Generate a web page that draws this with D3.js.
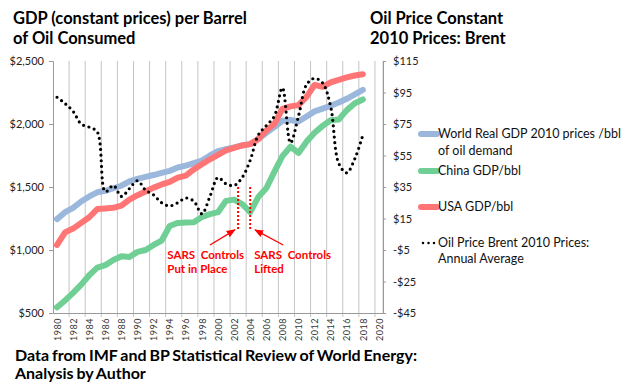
<!DOCTYPE html>
<html>
<head>
<meta charset="utf-8">
<script src="https://cdn.jsdelivr.net/npm/d3@7"></script>
<style>
  body { margin: 0; background: #fff; }
  svg text { font-family: Lato, "Open Sans", sans-serif; }
</style>
</head>
<body>
<div id="chart"></div>
<script>
const years = d3.range(1980, 2019);
const axisYears = d3.range(1980, 2021, 2);

const worldGdp = [1245, 1300, 1335, 1385, 1425, 1458, 1470, 1490, 1510, 1545,
  1565, 1580, 1595, 1612, 1628, 1655, 1670, 1690, 1710, 1750,
  1785, 1800, 1815, 1830, 1840, 1880, 1930, 1975, 2025, 2032,
  2020, 2060, 2100, 2122, 2145, 2170, 2200, 2235, 2270];
const chinaGdp = [545, 600, 660, 725, 800, 860, 880, 920, 950, 945,
  985, 1000, 1040, 1075, 1190, 1215, 1218, 1220, 1262, 1285,
  1300, 1390, 1400, 1365, 1300, 1420, 1490, 1620, 1745, 1820,
  1770, 1860, 1930, 1985, 2030, 2035, 2110, 2165, 2195];
const usaGdp = [1040, 1140, 1170, 1215, 1260, 1325, 1330, 1335, 1352, 1400,
  1435, 1465, 1495, 1520, 1540, 1575, 1590, 1640, 1680, 1720,
  1755, 1790, 1810, 1830, 1840, 1880, 1950, 2000, 2120, 2140,
  2150, 2215, 2310, 2295, 2330, 2350, 2370, 2385, 2395];
const oilPrice = [92, 88, 83, 75, 73, 70, 32, 36, 29, 34,
  39, 33, 30, 25, 23, 25, 28, 26, 18, 29,
  41, 37, 36, 41, 52, 68, 74, 80, 98, 63,
  80, 100, 104, 101, 86, 50, 44, 53, 68];

const leftTicks = [500, 1000, 1500, 2000, 2500];
const rightTicks = [-45, -25, -5, 15, 35, 55, 75, 95, 115];

const gdpSeries = [
  { name: "World Real GDP 2010 prices /bbl", name2: "of oil demand", values: worldGdp, color: "#9bb8dc" },
  { name: "China GDP/bbl", values: chinaGdp, color: "#6fcf94" },
  { name: "USA GDP/bbl", values: usaGdp, color: "#ff7575" }
];

// SARS annotation (year, left-axis value)
const sarsLines = [2002.5, 2004];
const sarsArrows = [
  { from: [1999.0, 1040], to: [2002.1, 1160] },
  { from: [2008.1, 1040], to: [2004.6, 1160] }
];
const sarsLabels = [
  { year: 1993.7, lines: ["SARS  Controls", "Put in Place"] },
  { year: 2004.5, lines: ["SARS  Controls", "Lifted"] }
];

const W = 640, H = 391;
const plot = { left: 53, right: 383, top: 61, bottom: 313 };

const svg = d3.select("#chart").append("svg")
  .attr("width", W).attr("height", H);

const x = d3.scaleLinear().domain([1979.5, 2020.5]).range([plot.left, plot.right]);
const yL = d3.scaleLinear().domain([500, 2500]).range([plot.bottom, plot.top]);
const yR = d3.scaleLinear().domain([-45, 115]).range([plot.bottom, plot.top]);

// vertical gridlines at category boundaries, every 2 years
const gridPos = d3.range(1981.5, 2021, 2);
svg.append("g").selectAll("line").data(gridPos).enter().append("line")
  .attr("x1", d => x(d)).attr("x2", d => x(d))
  .attr("y1", plot.top).attr("y2", plot.bottom + 4)
  .attr("stroke", "#c4c4c4").attr("stroke-width", 1);
svg.append("line")
  .attr("x1", x(2020.5)).attr("x2", x(2020.5))
  .attr("y1", plot.top).attr("y2", plot.bottom)
  .attr("stroke", "#c4c4c4");

// left axis
const gL = svg.append("g").attr("transform", `translate(${plot.left},0)`)
  .call(d3.axisLeft(yL).tickValues(leftTicks).tickSize(4).tickPadding(5)
    .tickFormat(d => "$" + d3.format(",")(d)));
gL.select(".domain").attr("stroke", "#9a9a9a");
gL.selectAll(".tick line").attr("stroke", "#9a9a9a");
gL.selectAll("text").attr("font-size", 11).attr("fill", "#222")
  .style("font-family", "Lato, sans-serif");

// right axis
const gR = svg.append("g").attr("transform", `translate(${plot.right},0)`)
  .call(d3.axisRight(yR).tickValues(rightTicks).tickSize(3).tickPadding(7)
    .tickFormat(d => (d < 0 ? "-$" + Math.abs(d) : "$" + d)));
gR.select(".domain").attr("stroke", "#9a9a9a");
gR.selectAll(".tick line").attr("stroke", "#9a9a9a");
gR.selectAll("text").attr("font-size", 11).attr("fill", "#222");

// bottom axis
const gB = svg.append("g").attr("transform", `translate(0,${plot.bottom})`)
  .call(d3.axisBottom(x).tickValues(axisYears).tickSize(0).tickFormat(d3.format("d")));
gB.select(".domain").attr("stroke", "#9a9a9a");
gB.selectAll("text")
  .attr("font-size", 9).attr("fill", "#333")
  .attr("transform", "rotate(-90)")
  .attr("text-anchor", "end")
  .attr("x", -5).attr("y", 0).attr("dy", "0.35em")
  .style("letter-spacing", "0.5px");

// GDP lines
const lineL = d3.line().x((d, i) => x(years[i])).y(d => yL(d));
gdpSeries.forEach(s => {
  svg.append("path")
    .attr("fill", "none")
    .attr("stroke", s.color)
    .attr("stroke-width", 6)
    .attr("stroke-linejoin", "round")
    .attr("stroke-linecap", "round")
    .attr("d", lineL(s.values));
});

// oil price (right axis), smoothed dotted line
const lineR = d3.line().x((d, i) => x(years[i])).y(d => yR(d)).curve(d3.curveCatmullRom.alpha(0.5));
svg.append("path")
  .attr("fill", "none")
  .attr("stroke", "#000")
  .attr("stroke-width", 3.2)
  .attr("stroke-linecap", "round")
  .attr("stroke-dasharray", "0 5.6")
  .attr("d", lineR(oilPrice));

// SARS markers
const red = "#ff0000";
sarsLines.forEach(yr => {
  svg.append("line")
    .attr("x1", x(yr)).attr("x2", x(yr))
    .attr("y1", yL(1500)).attr("y2", yL(1165))
    .attr("stroke", red).attr("stroke-width", 2).attr("stroke-dasharray", "2 2");
});
svg.append("defs").append("marker")
  .attr("id", "arrow").attr("viewBox", "0 0 10 10")
  .attr("refX", 9).attr("refY", 5)
  .attr("markerWidth", 7).attr("markerHeight", 7)
  .attr("orient", "auto")
  .append("path").attr("d", "M0,1 L10,5 L0,9 z").attr("fill", red);
sarsArrows.forEach(a => {
  svg.append("line")
    .attr("x1", x(a.from[0])).attr("y1", yL(a.from[1]))
    .attr("x2", x(a.to[0])).attr("y2", yL(a.to[1]))
    .attr("stroke", red).attr("stroke-width", 1.3)
    .attr("marker-end", "url(#arrow)");
});
sarsLabels.forEach(l => {
  l.lines.forEach((t, i) => {
    svg.append("text")
      .attr("x", x(l.year)).attr("y", yL(960) + i * 13.5)
      .attr("dy", "0.35em")
      .attr("font-size", 11.5).attr("font-weight", "bold")
      .attr("fill", red).style("white-space", "pre")
      .text(t);
  });
});

// titles
const titleFont = 16.5;
[["GDP (constant prices) per Barrel", 18], ["of Oil Consumed", 38]].forEach(([t, yy]) => {
  svg.append("text").attr("x", 13).attr("y", yy).attr("dy", "0.35em")
    .attr("font-size", titleFont).attr("font-weight", "bold").attr("fill", "#000").text(t);
});
[["Oil Price Constant", 18], ["2010 Prices: Brent", 38]].forEach(([t, yy]) => {
  svg.append("text").attr("x", 370).attr("y", yy).attr("dy", "0.35em")
    .attr("font-size", titleFont).attr("font-weight", "bold").attr("fill", "#000").text(t);
});
[["Data from IMF and BP Statistical Review of World Energy:", 355], ["Analysis by Author", 373]].forEach(([t, yy]) => {
  svg.append("text").attr("x", 15).attr("y", yy).attr("dy", "0.35em")
    .attr("font-size", 16).attr("font-weight", "bold").attr("fill", "#000")
    .style("word-spacing", "-1px").text(t);
});

// legend
const lg = svg.append("g");
const legendRows = [
  { s: gdpSeries[0], y: 134 },
  { s: gdpSeries[1], y: 171 },
  { s: gdpSeries[2], y: 207 }
];
legendRows.forEach(r => {
  lg.append("line").attr("x1", 421).attr("x2", 437).attr("y1", r.y).attr("y2", r.y)
    .attr("stroke", r.s.color).attr("stroke-width", 6).attr("stroke-linecap", "round");
  lg.append("text").attr("x", 438).attr("y", r.y).attr("dy", "0.35em")
    .attr("font-size", 12.5).attr("fill", "#111").text(r.s.name);
  if (r.s.name2) {
    lg.append("text").attr("x", 438).attr("y", r.y + 17).attr("dy", "0.35em")
      .attr("font-size", 12.5).attr("fill", "#111").text(r.s.name2);
  }
});
lg.append("line").attr("x1", 423).attr("x2", 436).attr("y1", 243).attr("y2", 243)
  .attr("stroke", "#000").attr("stroke-width", 2.5).attr("stroke-linecap", "round")
  .attr("stroke-dasharray", "0 5.5");
lg.append("text").attr("x", 438).attr("y", 243).attr("dy", "0.35em")
  .attr("font-size", 12.5).attr("fill", "#111").text("Oil Price Brent 2010 Prices:");
lg.append("text").attr("x", 438).attr("y", 259).attr("dy", "0.35em")
  .attr("font-size", 12.5).attr("fill", "#111").text("Annual Average");
</script>
</body>
</html>
